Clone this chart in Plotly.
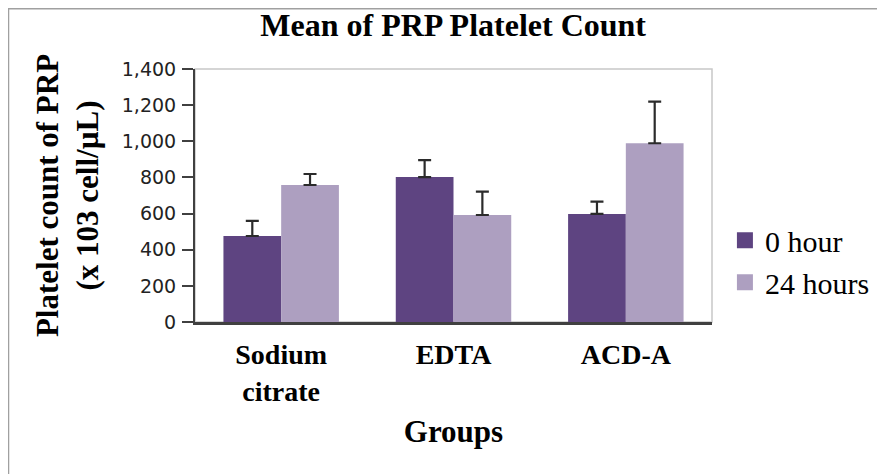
import plotly.graph_objects as go

groups = ["Sodium<br>citrate", "EDTA", "ACD-A"]
series_names = ["0 hour", "24 hours"]
hour0 = [476, 802, 598]
hour0_err = [84, 94, 68]
hour24 = [758, 592, 989]
hour24_err = [61, 129, 230]
y_ticks = [0, 200, 400, 600, 800, 1000, 1200, 1400]
y_tick_labels = ["0", "200", "400", "600", "800", "1,000", "1,200", "1,400"]

c0 = "#5e4481"
c24 = "#ad9fc0"
err_col = "#2b2b2b"

fig = go.Figure()
for name, vals, errs, col in [(series_names[0], hour0, hour0_err, c0),
                              (series_names[1], hour24, hour24_err, c24)]:
    fig.add_trace(go.Bar(
        x=groups, y=vals, name=name, showlegend=False,
        marker=dict(color=col, line=dict(width=0)),
        error_y=dict(type="data", symmetric=False, array=errs,
                     arrayminus=[0] * len(errs), color=err_col,
                     thickness=2.2, width=6.5),
    ))
    fig.add_trace(go.Scatter(
        x=[None], y=[None], mode="markers", name=name,
        marker=dict(symbol="square", size=16, color=col,
                    line=dict(width=0)),
    ))

fig.update_layout(
    width=885, height=474,
    margin=dict(l=187, r=181, t=61, b=160),
    paper_bgcolor="white", plot_bgcolor="white",
    barmode="group", bargap=0.33, bargroupgap=0,
    title=dict(text="<b>Mean of PRP Platelet Count</b>",
               font=dict(family="Liberation Serif", size=32, color="black"),
               x=0.503, xanchor="center", y=0.964, yanchor="middle"),
    legend=dict(x=1.025, xanchor="left", y=0.24, yanchor="middle",
                font=dict(family="Liberation Serif", size=30, color="black"),
                itemwidth=30, tracegroupgap=0, bgcolor="rgba(0,0,0,0)"),
    font=dict(family="Liberation Serif", color="black"),
    shapes=[
        dict(type="rect", xref="paper", yref="paper", x0=0, y0=0, x1=1, y1=1,
             line=dict(color="#c8c8c8", width=1.5), layer="below"),
        dict(type="rect", xref="paper", yref="paper",
             x0=-0.3607, y0=-0.7, x1=1.4, y1=1.238,
             line=dict(color="#a0a0a0", width=1.5), layer="below"),
    ],
)

fig.update_xaxes(
    showgrid=False, showline=True, linecolor="#404040", linewidth=2.5,
    ticks="", tickfont=dict(family="Liberation Serif", size=28, color="black"),
    tickprefix="<b>", ticksuffix="</b>", ticklabelstandoff=6,
    title=dict(text="<b>Groups</b>", standoff=15,
               font=dict(family="Liberation Serif", size=31, color="black")),
    zeroline=False,
)
fig.update_yaxes(
    range=[0, 1400], tickvals=y_ticks, ticktext=y_tick_labels,
    showgrid=False, showline=True, linecolor="#404040", linewidth=2,
    ticks="outside", ticklen=11, tickwidth=2, tickcolor="#404040",
    tickfont=dict(family="DejaVu Sans", size=19, color="#222222"),
    ticklabelstandoff=2,
    title=dict(text="<b>Platelet count of PRP<br>(x 103 cell/µL)</b>", standoff=14,
               font=dict(family="Liberation Serif", size=31, color="black")),
    zeroline=False,
)

fig.write_html("out.html")
